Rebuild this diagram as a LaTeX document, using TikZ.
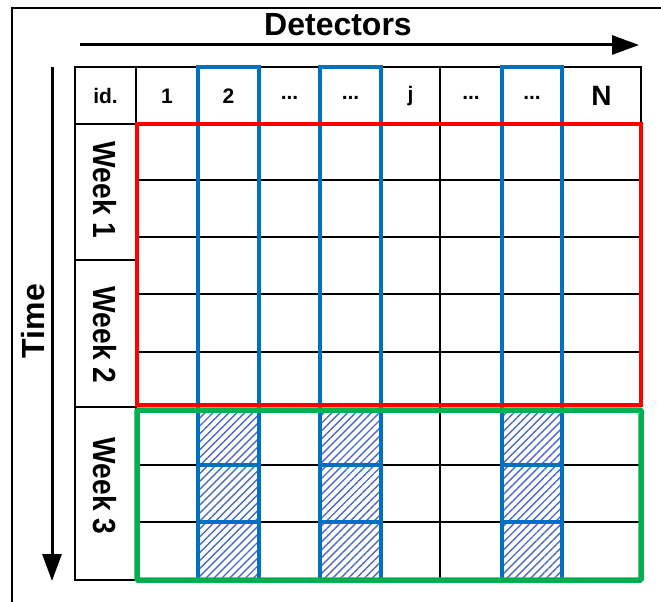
\documentclass[tikz,border=0pt]{standalone}
\usepackage{fontspec}
\setmainfont{Liberation Sans}
\usetikzlibrary{arrows.meta,patterns.meta}
\definecolor{myred}{RGB}{255,0,0}
\definecolor{myblue}{RGB}{0,112,192}
\definecolor{mygreen}{RGB}{0,176,80}
\definecolor{hatchblue}{RGB}{75,105,205}
\tikzset{
  gridline/.style={line width=2pt,black},
  outerline/.style={line width=2.8pt,black},
  bluecol/.style={draw=myblue,line width=4.5pt},
  bluecell/.style={draw=myblue,line width=3.5pt},
  hatched/.style={pattern={Lines[angle=45,distance=5.6pt,line width=1.4pt]},pattern color=hatchblue},
  redbox/.style={draw=myred,line width=4.5pt},
  greenbox/.style={draw=mygreen,line width=5.5pt,rounded corners=1pt},
  axisarrow/.style={line width=3pt,-{Triangle[length=27pt,width=19pt]}},
  hdr/.style={font=\fontsize{21}{24}\selectfont\bfseries,inner sep=0pt},
  weeklbl/.style={font=\fontsize{32}{36}\selectfont\bfseries,rotate=-90,inner sep=0pt},
  bigtitle/.style={font=\fontsize{32}{36}\selectfont\bfseries,inner sep=0pt},
}
\begin{document}
\begin{tikzpicture}[x=1pt,y=-1pt]
\useasboundingbox (0,0) rectangle (661,602);
% outer frame (clipped at right and bottom)
\draw[line width=2.5pt] (12,602) -- (12,8) -- (661,8);
% axis titles and arrows
\node[bigtitle] (det) at (338,25) {Detectors};
\coordinate (hs) at (80,45);
\coordinate (he) at (639,45);
\draw[axisarrow] (hs) -- (he);
\node[bigtitle,rotate=90] (time) at (33,321) {Time};
\coordinate (vs) at (52,67);
\coordinate (ve) at (52,581);
\draw[axisarrow] (vs) -- (ve);
% black grid
\foreach \x in {136,198,259,320,381,440,502,562}
  \draw[gridline] (\x,67) -- (\x,580);
\foreach \y in {180,237,294,352,465,522}
  \draw[gridline] (136,\y) -- (641,\y);
\draw[gridline] (75,124) -- (641,124);
\draw[gridline] (75,260) -- (136,260);
\draw[gridline] (75,407) -- (136,407);
\draw[outerline] (641,124) -- (641,67) -- (75,67) -- (75,580) -- (641,580);
% hatched cells (week 3)
\foreach \xa/\xb in {198/259,320/381,502/562}{
  \foreach \ya/\yb in {410/465,465/522,522/580}{
    \path[hatched] (\xa,\ya) rectangle (\xb,\yb);
    \draw[bluecell] (\xa,\ya) rectangle (\xb,\yb);
  }
}
% blue columns
\foreach \xa/\xb in {198/259,320/381,502/562}
  \draw[bluecol] (\xa,67) rectangle (\xb,580);
% red and green boxes
\draw[redbox] (137,124) rectangle (641,405);
\draw[greenbox] (137,410) rectangle (641,580);
% header labels
\node[hdr] (hid) at (105.5,96) {id.};
\node[hdr] (h1) at (167,96) {1};
\node[hdr] (h2) at (228.5,96) {2};
\node[hdr] (h3) at (289.5,98) {...};
\node[hdr] (h4) at (350.5,98) {...};
\node[hdr] (hj) at (410.5,96) {j};
\node[hdr] (h5) at (471,98) {...};
\node[hdr] (h6) at (532,98) {...};
\node[hdr,font=\fontsize{28}{30}\selectfont\bfseries] (hN) at (601.5,96) {N};
% week labels
\node[weeklbl] (w1) at (104.5,190) {\scalebox{0.88}[1]{Week 1}};
\node[weeklbl] (w2) at (104.5,335) {\scalebox{0.88}[1]{Week 2}};
\node[weeklbl] (w3) at (104.5,486) {\scalebox{0.88}[1]{Week 3}};
\end{tikzpicture}
\end{document}
